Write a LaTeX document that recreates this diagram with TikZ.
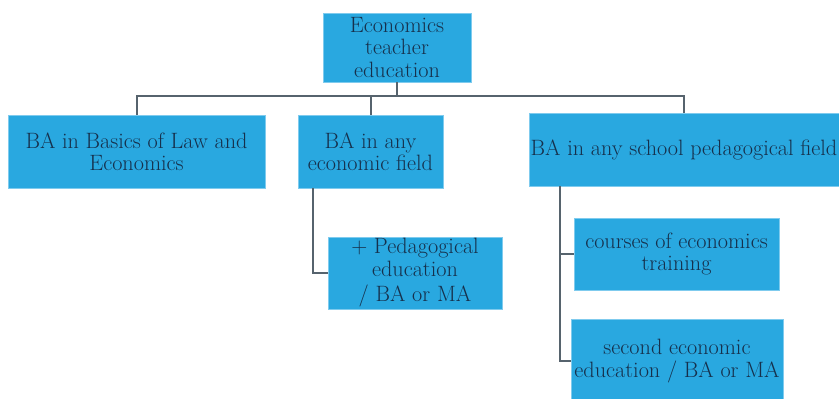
\documentclass[tikz,border=0pt]{standalone}
\definecolor{boxblue}{HTML}{29A8E0}
\definecolor{boxedge}{HTML}{7FCBEE}
\definecolor{navy}{HTML}{16304C}
\definecolor{linegray}{HTML}{56636D}
\tikzset{
  box/.style={fill=boxblue, draw=boxedge, line width=0.8pt, text=navy, align=center,
    inner sep=0pt, font=\fontsize{22.2}{22.5}\selectfont},
  conn/.style={draw=linegray, line width=2pt}
}
\begin{document}
\begin{tikzpicture}[x=1pt,y=-1pt]
\useasboundingbox (0,0) rectangle (839,399);
\node[box, minimum width=148, minimum height=69] (top) at (397,47.5) {Economics\\teacher\\education};
\node[box, minimum width=257, minimum height=73] (b1) at (136.5,151.5) {BA in Basics of Law and\\Economics};
\node[box, minimum width=145, minimum height=73] (b2) at (370.5,151.5) {BA in any\\economic field};
\node[box, minimum width=310, minimum height=73] (b3) at (684,149.5) {BA in any school pedagogical field};
\node[box, minimum width=174, minimum height=72] (b4) at (415,273) {+ Pedagogical\\education\\[3pt]/ BA or MA};
\node[box, minimum width=205, minimum height=72] (b5) at (676.5,254) {courses of economics\\training};
\node[box, minimum width=212, minimum height=84] (b6) at (677,361) {second economic\\education / BA or MA};
\coordinate (hub) at (397,96);
\draw[conn] (top.south) -- (hub);
\draw[conn] (b1.north) -- (b1.north |- hub) -- (b3.north |- hub) -- (b3.north);
\draw[conn] (b2.north) -- (b2.north |- hub);
\draw[conn] (313,188) -- (313,273) -- (b4.west);
\draw[conn] (560,186) -- (560,361) -- (b6.west);
\draw[conn] (560,254) -- (b5.west);
\end{tikzpicture}
\end{document}
